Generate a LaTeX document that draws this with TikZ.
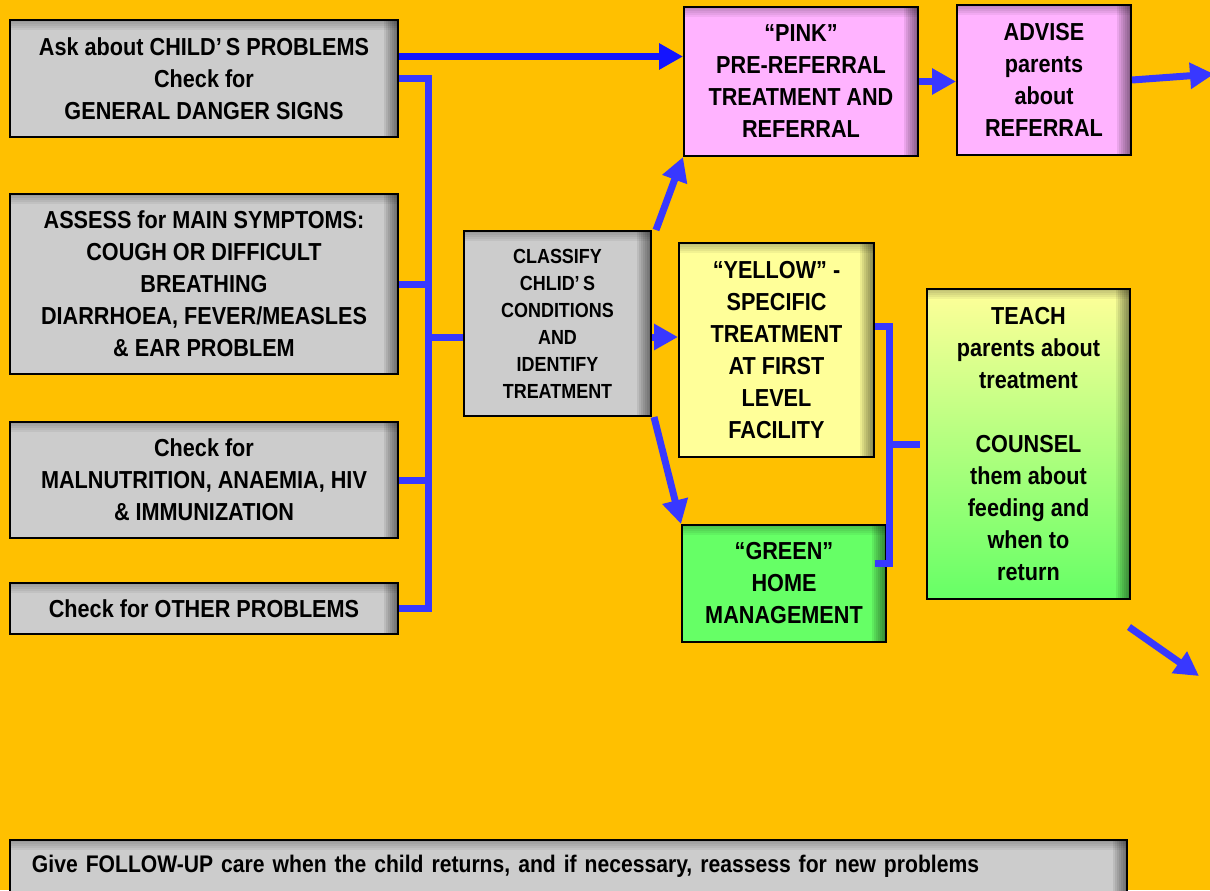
\documentclass[tikz,border=0pt]{standalone}
\usepackage{fontspec}
\setmainfont{Liberation Sans}[FakeStretch=0.88]
\usetikzlibrary{arrows.meta}

\definecolor{bgorange}{HTML}{FFC000}
\definecolor{graybox}{HTML}{CCCCCC}
\definecolor{pinkbox}{HTML}{FFB3FF}
\definecolor{yellowbox}{HTML}{FFFF99}
\definecolor{greenbox}{HTML}{66FF66}
\definecolor{linkblue}{HTML}{3838FF}
\definecolor{linkdeep}{HTML}{1414FF}

\tikzset{
  box/.style={draw=black, line width=1pt, inner sep=0pt, align=center,
    font=\bfseries\fontsize{12.3}{16}\selectfont,
    path picture={
      \foreach \k in {1,...,7}
        \fill[black, opacity=0.08]
          ([xshift=-\k pt]path picture bounding box.north east) rectangle (path picture bounding box.south east);
      \foreach \k in {1,...,5}
        \fill[black, opacity=0.05]
          (path picture bounding box.north west) rectangle ([yshift=-\k pt]path picture bounding box.north east);
    }},
  small/.style={font=\bfseries\fontsize{10.2}{13.5}\selectfont},
  link/.style={draw=linkblue, line width=3.5pt},
  flow/.style={link, -{Triangle[length=12pt,width=12.5pt]}},
}

\begin{document}
\begin{tikzpicture}[x=0.5pt,y=-0.5pt]
  \fill[bgorange] (0,0) rectangle (1210,890);
  \useasboundingbox (0,0) rectangle (1210,890);
  \clip (0,0) rectangle (1210,890);

  % left column
  \node[box, fill=graybox, minimum width=194pt, minimum height=58.5pt] (ask) at (204,78.5)
    {Ask about CHILD’\,S PROBLEMS\\Check for\\GENERAL DANGER SIGNS};
  \node[box, fill=graybox, minimum width=194pt, minimum height=90pt] (assess) at (204,284)
    {ASSESS for MAIN SYMPTOMS:\\COUGH OR DIFFICULT\\BREATHING\\DIARRHOEA, FEVER/MEASLES\\\& EAR PROBLEM};
  \node[box, fill=graybox, minimum width=194pt, minimum height=58pt] (mal) at (204,480)
    {Check for\\MALNUTRITION, ANAEMIA, HIV\\\& IMMUNIZATION};
  \node[box, fill=graybox, minimum width=194pt, minimum height=25.5pt] (other) at (204,608.5)
    {Check for OTHER PROBLEMS};

  % middle
  \node[box, small, fill=graybox, minimum width=93.5pt, minimum height=92.5pt] (classify) at (557.5,323.5)
    {CLASSIFY\\CHLID’\,S\\CONDITIONS\\AND\\IDENTIFY\\TREATMENT};

  % colour boxes
  \node[box, fill=pinkbox, minimum width=117pt, minimum height=74.5pt] (pink) at (801,81.5)
    {“PINK”\\PRE-REFERRAL\\TREATMENT AND\\REFERRAL};
  \node[box, fill=pinkbox, minimum width=87pt, minimum height=75pt] (advise) at (1044,80)
    {ADVISE\\parents\\about\\REFERRAL};
  \node[box, fill=yellowbox, minimum width=97.5pt, minimum height=107pt] (yellow) at (776.5,350)
    {“YELLOW” -\\SPECIFIC\\TREATMENT\\AT FIRST\\LEVEL\\FACILITY};
  \node[box, fill=greenbox, minimum width=102pt, minimum height=58.5pt] (green) at (784,583.5)
    {“GREEN”\\HOME\\MANAGEMENT};
  \node[box, top color=yellowbox, bottom color=greenbox, minimum width=101.5pt, minimum height=155pt] (teach) at (1028.5,444)
    {TEACH\\parents about\\treatment\\[16pt]COUNSEL\\them about\\feeding and\\when to\\return};

  % bottom bar
  \node[box, fill=graybox, align=left, text width=536.5pt, inner xsep=11pt, minimum height=26pt,
        font=\bfseries\fontsize{12}{14}\selectfont] (follow) at (568.5,866)
    {Give FOLLOW-UP care when the child returns, and if necessary, reassess for new problems};

  \coordinate (jl) at (428,337);
  \coordinate (jr) at (889,444);
  \coordinate (offr) at (1214,74);
  \coordinate (nx1) at (1129,627);
  \coordinate (nx2) at (1199,676);

  % connectors
  \draw[flow, draw=linkdeep] ([yshift=11pt]ask.east) -- ([yshift=11pt]ask.east -| pink.west);
  \draw[link] (ask.east) -| (jl) |- (other.east);
  \draw[link] (assess.east) -- (assess.east -| jl);
  \draw[link] (mal.east) -- (mal.east -| jl);
  \draw[link] (jl) -- (jl -| classify.west);
  \draw[flow] ([xshift=2pt]classify.north east) -- (pink.south west);
  \draw[flow] (jl -| classify.east) -- (jl -| yellow.west);
  \draw[flow] ([xshift=1pt]classify.south east) -- (green.north west);
  \draw[flow] (pink.east) -- (pink.east -| advise.west);
  \draw[flow] (advise.east) -- (offr);
  \draw[link] ([yshift=12pt]yellow.east) -| (jr) |- ([xshift=-6pt,yshift=10pt]green.east);
  \draw[link] (jr) -- ([xshift=-3pt]teach.west);
  \draw[flow] (nx1) -- (nx2);
\end{tikzpicture}
\end{document}
